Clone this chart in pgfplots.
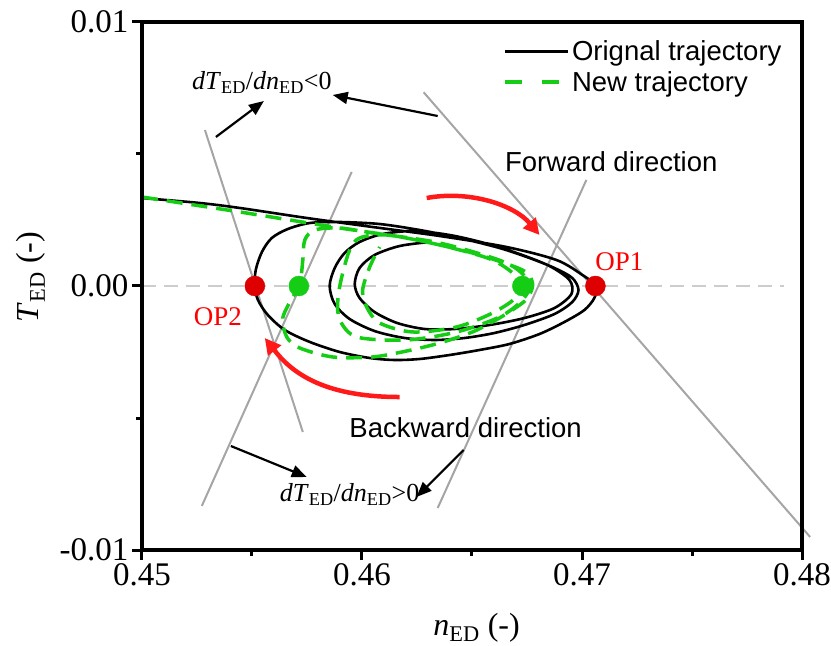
\documentclass[border=0pt]{standalone}
\usepackage{pgfplots}
\pgfplotsset{compat=1.18}
\usepackage{fontspec}
\setmainfont{Liberation Serif}
\newfontfamily\arial{Liberation Sans}
\usetikzlibrary{arrows.meta}
\definecolor{tgreen}{RGB}{20,205,20}
\definecolor{dred}{RGB}{222,0,0}
\definecolor{lgray}{RGB}{165,165,165}
\definecolor{zgray}{RGB}{205,205,205}
\definecolor{ared}{RGB}{255,25,25}
\begin{document}
\begin{tikzpicture}
\begin{axis}[
  at={(0,0)}, anchor=south west,
  scale only axis, width=660pt, height=528pt,
  xmin=0.45, xmax=0.48, ymin=-0.01, ymax=0.01,
  clip=false,
  axis line style={line width=3.4pt},
  scaled ticks=false,
  xtick={0.45,0.46,0.47,0.48}, xticklabels={0.45,0.46,0.47,0.48},
  ytick={-0.01,0,0.01}, yticklabels={-0.01,0.00,0.01},
  minor xtick={0.455,0.465,0.475}, minor ytick={-0.005,0.005},
  tick pos=left, tick align=outside,
  major tick length=10pt, minor tick length=6pt,
  every tick/.style={line width=3pt, black},
  tick label style={font=\fontsize{33}{33}\selectfont},
  /pgf/number format/assume math mode=true,
  xlabel={\textit{n}\textsubscript{ED} (-)},
  ylabel={\textit{T}\textsubscript{ED} (-)},
  label style={font=\fontsize{32}{32}\selectfont},
  xlabel style={at={(axis description cs:0.507,-0.148)}, anchor=center},
  ylabel style={at={(axis description cs:-0.168,0.517)}, anchor=center},
  legend style={draw=none, fill=none, at={(rel axis cs:0.543,0.972)}, anchor=north west,
    font=\arial\fontsize{27.5}{30}\selectfont, row sep=5pt},
  legend cell align=left,
  legend image code/.code={\draw[#1] (0pt,0pt) -- (63pt,0pt);},
]
% zero line
\addplot[zgray, line width=2.5pt, dash pattern=on 14pt off 8pt, forget plot] coordinates {(0.45,0) (0.4792,0)};
% gray guide lines
\addplot[lgray, line width=2pt, forget plot] coordinates {(0.45286,0.00591) (0.45731,-0.00553)};
\addplot[lgray, line width=2pt, forget plot] coordinates {(0.45272,-0.00833) (0.45953,0.00432)};
\addplot[lgray, line width=2pt, forget plot] coordinates {(0.46280,0.00734) (0.48037,-0.009508)};
\addplot[lgray, line width=2pt, forget plot] coordinates {(0.46344,-0.00841) (0.47020,0.00402)};
% original trajectory
\addplot[black, line width=2.6pt, smooth, tension=0.5] coordinates {
(0.45000,0.003333) (0.45263,0.003144) (0.45445,0.002955) (0.45749,0.002576)
(0.46048,0.002235) (0.46353,0.001894) (0.46657,0.001477) (0.46884,0.000985)
(0.47002,0.000417) (0.47065,0.000000) (0.47056,-0.000455) (0.47011,-0.000909)
(0.46920,-0.001364) (0.46807,-0.001818) (0.46670,-0.002197) (0.46534,-0.002424)
(0.46398,-0.002614) (0.46262,-0.002765) (0.46148,-0.002803) (0.46035,-0.002727)
(0.45899,-0.002500) (0.45763,-0.002121) (0.45649,-0.001667) (0.45572,-0.001098)
(0.45527,-0.000530) (0.45513,0.000000) (0.45517,0.000606) (0.45545,0.001288)
(0.45590,0.001818) (0.45663,0.002159) (0.45763,0.002386) (0.45899,0.002424)
(0.46080,0.002348) (0.46262,0.002121) (0.46443,0.001818) (0.46625,0.001439)
(0.46761,0.001061) (0.46875,0.000682) (0.46956,0.000303) (0.46984,-0.000152)
(0.46956,-0.000606) (0.46875,-0.001061) (0.46738,-0.001477) (0.46602,-0.001780)
(0.46466,-0.001970) (0.46330,-0.002045) (0.46194,-0.001970) (0.46057,-0.001705)
(0.45944,-0.001250) (0.45876,-0.000682) (0.45853,0.000000) (0.45876,0.000682)
(0.45921,0.001250) (0.45989,0.001667) (0.46094,0.001970) (0.46239,0.002083)
(0.46398,0.001932) (0.46557,0.001629) (0.46716,0.001212) (0.46852,0.000758)
(0.46943,0.000227) (0.46952,-0.000303) (0.46875,-0.000833) (0.46739,-0.001212)
(0.46580,-0.001477) (0.46421,-0.001629) (0.46285,-0.001629) (0.46160,-0.001402)
(0.46057,-0.000985) (0.45989,-0.000455) (0.45967,0.000076) (0.45989,0.000682)
(0.46057,0.001174) (0.46171,0.001515) (0.46307,0.001667)
};
\addlegendentry{Orignal trajectory}
% new trajectory
\addplot[tgreen, line width=3.5pt, dash pattern=on 16pt off 9pt, smooth, tension=0.5,
  legend image post style={dash pattern=on 17pt off 20pt}] coordinates {
(0.45000,0.003371) (0.45445,0.002803) (0.45899,0.002197) (0.46203,0.001818)
(0.46502,0.001250) (0.46729,0.000606) (0.46775,0.000114) (0.46761,-0.000341)
(0.46729,-0.000644) (0.46625,-0.001212) (0.46502,-0.001742) (0.46353,-0.002159)
(0.46203,-0.002462) (0.46048,-0.002689) (0.45867,-0.002689) (0.45717,-0.002348)
(0.45658,-0.001932) (0.45640,-0.001212) (0.45685,-0.000417) (0.45717,0.000000)
(0.45731,0.000985) (0.45740,0.001742) (0.45785,0.002121) (0.45899,0.002197)
(0.46048,0.002008) (0.46353,0.001629) (0.46657,0.000871) (0.46761,0.000114)
(0.46729,-0.000530) (0.46625,-0.001174) (0.46430,-0.001742) (0.46203,-0.002045)
(0.45976,-0.001932) (0.45899,-0.001288) (0.45890,-0.000530) (0.45908,0.000341)
(0.45944,0.001364) (0.45989,0.001818) (0.46112,0.001932) (0.46353,0.001553)
(0.46593,0.000985) (0.46716,0.000227) (0.46702,-0.000417) (0.46593,-0.001023)
(0.46430,-0.001553) (0.46230,-0.001742) (0.46080,-0.001402) (0.46021,-0.000795)
(0.46003,-0.000152) (0.46035,0.000720) (0.46080,0.001477)
};
\addlegendentry{New trajectory}
% operating points
\addplot[only marks, mark=*, mark size=10pt, dred, forget plot] coordinates {(0.45513,0) (0.47061,0)};
\addplot[only marks, mark=*, mark size=10pt, tgreen, forget plot] coordinates {(0.45713,0) (0.46729,0)};
% black arrows
\draw[line width=2.2pt, -{Triangle[length=15pt,width=12pt]}] (axis cs:0.45336,0.005644) -- (axis cs:0.45554,0.007008);
\draw[line width=2.2pt, -{Triangle[length=15pt,width=12pt]}] (axis cs:0.46344,0.006439) -- (axis cs:0.45867,0.007235);
\draw[line width=2.2pt, -{Triangle[length=15pt,width=12pt]}] (axis cs:0.45404,-0.006061) -- (axis cs:0.45749,-0.007235);
\draw[line width=2.2pt, -{Triangle[length=15pt,width=12pt]}] (axis cs:0.46462,-0.006212) -- (axis cs:0.46248,-0.007992);
% red curved arrows
\draw[ared, line width=4.5pt, -{Triangle[length=16pt,width=16pt]}] (axis cs:0.46294,0.003333) .. controls (axis cs:0.46489,0.003636) and (axis cs:0.46693,0.003068) .. (axis cs:0.46807,0.001932);
\draw[ared, line width=4.5pt, -{Triangle[length=16pt,width=16pt]}] (axis cs:0.46171,-0.004205) .. controls (axis cs:0.45808,-0.004205) and (axis cs:0.45672,-0.003182) .. (axis cs:0.45558,-0.001970);
% labels
\node[font=\fontsize{27}{27}\selectfont, text=red] at (axis cs:0.47170,0.000909) {OP1};
\node[font=\fontsize{27}{27}\selectfont, text=red] at (axis cs:0.45345,-0.001174) {OP2};
\node[font=\fontsize{26}{26}\selectfont] at (axis cs:0.45545,0.00770) {\textit{dT}\textsubscript{ED}/\textit{dn}\textsubscript{ED}<0};
\node[font=\fontsize{26}{26}\selectfont] at (axis cs:0.45944,-0.00790) {\textit{dT}\textsubscript{ED}/\textit{dn}\textsubscript{ED}>0};
\node[font=\arial\fontsize{27.5}{30}\selectfont] at (axis cs:0.47133,0.004697) {Forward direction};
\node[font=\arial\fontsize{27.5}{30}\selectfont] at (axis cs:0.46471,-0.005379) {Backward direction};
% frame
\draw[line width=3.4pt, line cap=rect] (rel axis cs:0,0) rectangle (rel axis cs:1,1);
\end{axis}
\pgfresetboundingbox
\path[use as bounding box] (-142pt,-96pt) rectangle (689pt,550pt);
\end{tikzpicture}
\end{document}
